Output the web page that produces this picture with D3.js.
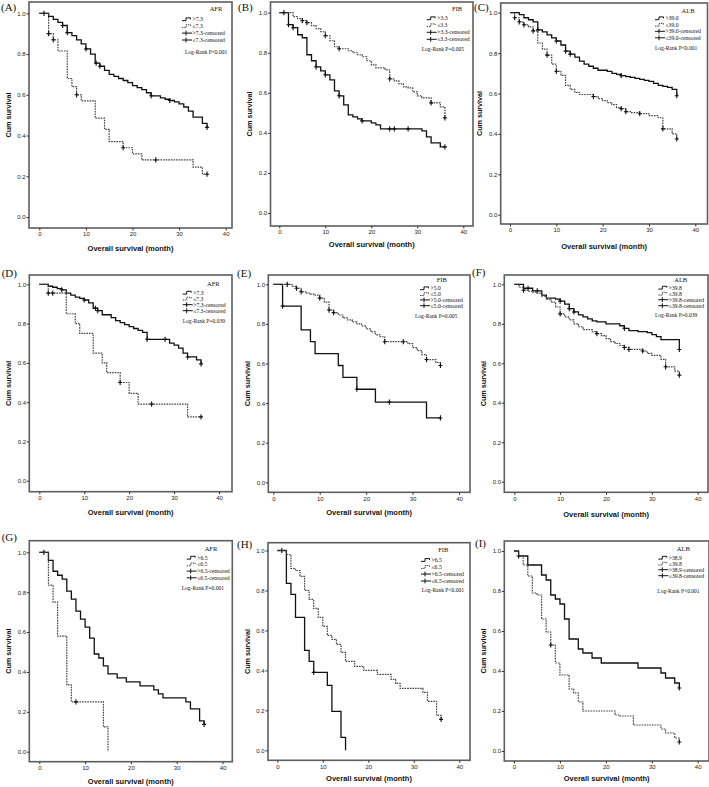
<!DOCTYPE html>
<html><head><meta charset="utf-8">
<script src="https://cdn.jsdelivr.net/npm/d3@7"></script>
<style>body{margin:0;background:#fff}svg{display:block}</style>
</head><body>
<svg id="c" width="709" height="787"></svg>
<script>
// ---------------- DATA ----------------
const panelLabels = ["(A)","(B)","(C)","(D)","(E)","(F)","(G)","(H)","(I)"];
const markerNames = ["AFR","FIB","ALB","AFR","FIB","ALB","AFR","FIB","ALB"];
const cutHigh = [">7.3",">3.3",">39.0",">7.3",">5.0",">39.8",">6.5",">6.5",">38.9"];
const cutLow  = ["≤7.3","≤3.3","≤39.0","≤7.3","≤5.0","≤39.8","≤6.5","≤6.5","≤39.8"];
const pTexts  = ["Log-Rank P<0.001","Log-Rank P=0.005","Log-Rank P<0.001","Log-Rank P=0.039","Log-Rank P=0.005","Log-Rank P=0.039","Log-Rank P=0.001","Log-Rank P<0.001","Log-Rank P<0.001"];
const xTicks = [0,10,20,30,40];
const yTicks = [0,0.2,0.4,0.6,0.8,1.0];
const xTitle = "Overall survival (month)";
const yTitle = "Cum survival";

// step data: [month, cumulative survival after the event]
const A_high = [[2,0.985],[3,0.97],[4,0.955],[5,0.94],[6,0.905],[7,0.89],[8,0.87],[9,0.85],[10,0.825],[11,0.80],[12,0.755],[13,0.74],[14,0.72],[15,0.70],[16,0.69],[17,0.68],[18,0.67],[19,0.66],[20,0.645],[21,0.635],[22,0.625],[23,0.61],[24,0.595],[26,0.585],[27,0.578],[28,0.572],[29,0.565],[30,0.555],[31,0.54],[32,0.52],[33,0.49],[35,0.46],[36,0.44]];
const A_low  = [[2,0.90],[3,0.87],[4,0.815],[6,0.68],[7,0.64],[8,0.60],[9,0.57],[12,0.485],[14,0.43],[15,0.37],[18,0.34],[20,0.31],[22,0.28],[33,0.245],[35,0.21]];
const A_highCens = [1,5,6,10,12.2,13,24,28,36];
const A_lowCens  = [2,3,8,18,25,36];

const B_high = [[2,0.94],[3,0.925],[4,0.89],[5,0.875],[6,0.79],[7,0.76],[8,0.73],[9,0.71],[10,0.69],[11,0.665],[12,0.61],[13,0.585],[14,0.54],[15,0.49],[16,0.48],[17,0.47],[18,0.46],[20,0.45],[21,0.44],[22,0.42],[31,0.41],[32,0.38],[33,0.35],[35,0.33]];
const B_low  = [[3,0.98],[4,0.97],[5,0.96],[6,0.95],[7,0.935],[8,0.92],[9,0.905],[10,0.885],[11,0.86],[12,0.83],[13,0.82],[15,0.81],[16,0.80],[17,0.79],[18,0.78],[19,0.76],[20,0.74],[21,0.725],[23,0.715],[24,0.67],[25,0.66],[26,0.645],[27,0.63],[28,0.625],[29,0.605],[30,0.585],[31,0.575],[33,0.55],[35,0.53],[36,0.475]];
const B_highCens = [2,3,8,10,13,18,24,25,28,36];
const B_lowCens  = [1,5,6,10,13,24,33,36];

const C_high = [[2,0.99],[3,0.975],[4,0.965],[5,0.955],[6,0.915],[7,0.905],[8,0.89],[9,0.875],[10,0.86],[11,0.84],[12,0.81],[13,0.795],[14,0.78],[15,0.76],[16,0.745],[17,0.735],[18,0.725],[19,0.715],[21,0.71],[22,0.70],[23,0.695],[24,0.688],[25,0.684],[26,0.68],[27,0.675],[28,0.67],[29,0.665],[30,0.66],[31,0.65],[32,0.64],[33,0.635],[34,0.63],[35,0.62],[36,0.589]];
const C_low  = [[1,0.975],[2,0.955],[3,0.94],[4,0.93],[5,0.91],[6,0.85],[7,0.82],[8,0.79],[9,0.745],[10,0.71],[11,0.69],[12,0.64],[13,0.62],[14,0.605],[15,0.595],[18,0.585],[19,0.575],[20,0.565],[21,0.555],[22,0.545],[23,0.53],[24,0.525],[25,0.51],[26,0.505],[28,0.50],[30,0.49],[32,0.48],[33,0.425],[35,0.40],[36,0.375]];
const C_highCens = [6,10,12,13,24,36];
const C_lowCens  = [1,2,3,5,8,10,18,24,25,28,33,36];

const D_high = [[2,0.99],[3,0.985],[4,0.978],[5,0.972],[6,0.955],[7,0.945],[8,0.935],[9,0.928],[10,0.92],[11,0.905],[12,0.878],[13,0.866],[14,0.845],[16,0.83],[17,0.815],[18,0.805],[19,0.795],[20,0.785],[21,0.775],[22,0.765],[23,0.755],[24,0.72],[29,0.70],[30,0.69],[31,0.675],[32,0.65],[33,0.63],[35,0.615],[36,0.595]];
const D_low  = [[2,0.955],[6,0.85],[8,0.80],[9,0.75],[12,0.65],[14,0.60],[15,0.55],[18,0.50],[20,0.445],[22,0.39],[33,0.325]];
const D_highCens = [5,10,12.5,13,24,28,33,36];
const D_lowCens  = [2,3,18,25,36];

const E_high = [[2,0.89],[6,0.77],[8,0.71],[9,0.65],[14,0.59],[15,0.53],[18,0.47],[22,0.405],[33,0.325]];
const E_low  = [[4,0.99],[5,0.98],[6,0.962],[7,0.955],[8,0.95],[9,0.945],[10,0.93],[11,0.91],[12,0.87],[13,0.857],[14,0.845],[15,0.83],[16,0.82],[17,0.81],[18,0.80],[19,0.79],[20,0.775],[21,0.76],[22,0.745],[23,0.735],[24,0.71],[29,0.70],[30,0.68],[31,0.665],[32,0.645],[33,0.62],[35,0.605],[36,0.59]];
const E_highCens = [2,18,25,36];
const E_lowCens  = [3,5,6,10,12,13,24,28,33,36];

const F_high = [[2,0.98],[4,0.967],[6,0.945],[7,0.93],[9,0.925],[10,0.915],[11,0.90],[12,0.877],[13,0.86],[14,0.845],[15,0.835],[16,0.825],[17,0.815],[18,0.81],[20,0.80],[23,0.79],[24,0.777],[25,0.765],[27,0.76],[29,0.755],[30,0.745],[31,0.735],[32,0.72],[36,0.67]];
const F_low  = [[1,0.985],[2,0.97],[3,0.965],[4,0.96],[5,0.955],[6,0.94],[7,0.925],[8,0.91],[9,0.885],[10,0.85],[11,0.835],[12,0.82],[13,0.80],[14,0.785],[15,0.77],[17,0.76],[18,0.75],[19,0.74],[20,0.725],[21,0.71],[22,0.70],[23,0.69],[24,0.68],[25,0.67],[28,0.662],[29,0.65],[30,0.64],[32,0.62],[33,0.582],[35,0.56],[36,0.54]];
const F_highCens = [3,5,10,12,13,24,36];
const F_lowCens  = [2,10,18,24,25,28,33,36];

const G_high = [[2,0.96],[3,0.905],[4,0.885],[5,0.865],[6,0.805],[7,0.765],[8,0.705],[9,0.665],[10,0.625],[11,0.57],[12,0.49],[13,0.47],[14,0.43],[15,0.39],[17,0.37],[19,0.35],[22,0.33],[25,0.31],[26,0.29],[27,0.27],[32,0.25],[33,0.215],[35,0.155],[36,0.137]];
const G_low  = [[2,0.835],[3,0.75],[4,0.58],[6,0.335],[7,0.25],[14,0.125],[15,0.0]];
const G_highCens = [1,36];
const G_lowCens  = [8];

const H_high = [[2,0.835],[3,0.78],[4,0.665],[6,0.50],[7,0.445],[8,0.39],[11,0.325],[12,0.195],[14,0.065],[15,0.0]];
const H_low  = [[2,0.98],[3,0.91],[4,0.90],[5,0.87],[6,0.80],[7,0.755],[8,0.71],[9,0.665],[10,0.62],[11,0.575],[12,0.555],[13,0.53],[14,0.49],[15,0.445],[17,0.42],[19,0.40],[22,0.38],[25,0.355],[26,0.335],[27,0.31],[32,0.29],[33,0.245],[35,0.175],[36,0.155]];
const H_highCens = [1,8];
const H_lowCens  = [36];

const I_high = [[1,0.975],[3,0.93],[6,0.88],[7,0.855],[8,0.78],[9,0.76],[10,0.735],[11,0.66],[12,0.56],[14,0.51],[15,0.49],[17,0.465],[19,0.44],[27,0.415],[32,0.39],[33,0.365],[35,0.34],[36,0.315]];
const I_low  = [[1,0.975],[2,0.93],[3,0.875],[4,0.79],[5,0.78],[6,0.66],[7,0.595],[8,0.53],[9,0.44],[10,0.38],[12,0.31],[13,0.29],[14,0.245],[15,0.20],[22,0.18],[23,0.175],[26,0.13],[32,0.11],[33,0.09],[35,0.065],[36,0.045]];
const I_highCens = [1,36];
const I_lowCens  = [8,36];

const highEnd = [36,36,36,36,36,36,36,15,36];
const lowEnd  = [36,36,36,36,36,36,15,36,36];

const highSteps = [A_high,B_high,C_high,D_high,E_high,F_high,G_high,H_high,I_high];
const lowSteps  = [A_low,B_low,C_low,D_low,E_low,F_low,G_low,H_low,I_low];
const highCens  = [A_highCens,B_highCens,C_highCens,D_highCens,E_highCens,F_highCens,G_highCens,H_highCens,I_highCens];
const lowCens   = [A_lowCens,B_lowCens,C_lowCens,D_lowCens,E_lowCens,F_lowCens,G_lowCens,H_lowCens,I_lowCens];

// ---------------- LAYOUT (pixels) ----------------
const layout = [
 {f:[29,2,232,228], x:[39.3,225.7], y:[217,13.3], lab:[1,10.5], xt:248, lg:{tx:216,ty:9,gx:182,iy:19.3,gap:6.9,ly:52,lx:185}},
 {f:[270.5,2,473,226], x:[279.3,463.3], y:[213,12.7], lab:[238,10.5], xt:244.5, lg:{tx:457,ty:9,gx:426.7,iy:18.3,gap:7,ly:48.7,lx:421.7}},
 {f:[500.7,3,707.5,224], x:[510,695.3], y:[214.7,12.7], lab:[474,10.5], xt:246.5, lg:{tx:688,ty:10.7,gx:655,iy:18.3,gap:6.5,ly:48.3,lx:655}},
 {f:[29.3,275,232,491.7], x:[39.3,219], y:[480.7,284.3], lab:[1.7,276.5], xt:512.7, lg:{tx:213.3,ty:283.3,gx:182.7,iy:292.7,gap:6,ly:321,lx:182.7}},
 {f:[268.3,275,470,492.3], x:[273.3,459], y:[482.3,284.3], lab:[237,276.5], xt:512.7, lg:{tx:441.7,ty:279.3,gx:420,iy:288.3,gap:5.8,ly:316,lx:415}},
 {f:[504.3,275,708,492.3], x:[514.3,697.7], y:[481.7,284.3], lab:[472,275.5], xt:514.3, lg:{tx:680.7,ty:280,gx:658.3,iy:287.7,gap:6,ly:315,lx:655}},
 {f:[29.3,540.7,232.3,761.7], x:[39.3,222.5], y:[751.7,552.3], lab:[1.7,541], xt:781, lg:{tx:211,ty:548.3,gx:186.7,iy:557.7,gap:6.7,ly:587.7,lx:181.7}},
 {f:[268,542.7,470,760.3], x:[277.3,459.3], y:[750.3,550.5], lab:[237,548], xt:778.3, lg:{tx:443.3,ty:550,gx:421,iy:560,gap:7,ly:590,lx:421.7}},
 {f:[504.3,541,709,761], x:[514,697.7], y:[751,551], lab:[475,547], xt:778.3, lg:{tx:683.3,ty:548.3,gx:658.3,iy:557.7,gap:6,ly:591,lx:657.3}}
];

const SOLID = "#111", DASH = "#444", FRAME = "#5e5e5e";
const svg = d3.select("#c");

function survAt(steps, t){
  let s = 1;
  for (const [tt, v] of steps) { if (tt <= t) s = v; }
  return s;
}

layout.forEach((L, i) => {
  const g = svg.append("g");
  const x = d3.scaleLinear().domain([0,40]).range(L.x);
  const y = d3.scaleLinear().domain([0,1]).range(L.y);
  const [fl, ft, fr, fb] = L.f;

  // frame
  g.append("rect").attr("x", fl).attr("y", ft).attr("width", fr-fl).attr("height", fb-ft)
    .attr("fill","none").attr("stroke",FRAME).attr("stroke-width",1.6);

  // axes
  const ya = g.append("g").attr("transform",`translate(${fl},0)`)
    .call(d3.axisLeft(y).tickValues(yTicks).tickFormat(d3.format(".1f")).tickSize(2.5).tickPadding(0.8));
  const xa = g.append("g").attr("transform",`translate(0,${fb})`)
    .call(d3.axisBottom(x).tickValues(xTicks).tickFormat(d3.format("d")).tickSize(2.5).tickPadding(1.5));
  [ya, xa].forEach(a => {
    a.select(".domain").remove();
    a.selectAll("line").attr("stroke","#333").attr("stroke-width",1);
    a.selectAll("text").attr("font-family","Liberation Sans, Arial, sans-serif").attr("font-size",6).attr("fill","#222");
  });

  // titles
  g.append("text").attr("x",(fl+fr)/2).attr("y",L.xt).attr("dy","0.35em")
    .attr("text-anchor","middle").attr("font-family","Liberation Sans, Arial, sans-serif")
    .attr("font-weight","bold").attr("font-size",7.5).attr("fill","#111").text(xTitle);
  g.append("text").attr("transform",`translate(${fl-21},${(ft+fb)/2}) rotate(-90)`).attr("dy","0.35em")
    .attr("text-anchor","middle").attr("font-family","Liberation Sans, Arial, sans-serif")
    .attr("font-weight","bold").attr("font-size",7.2).attr("fill","#111").text(yTitle);
  g.append("text").attr("x",L.lab[0]).attr("y",L.lab[1])
    .attr("font-family","Liberation Serif, Times New Roman, serif").attr("font-size",11).attr("fill","#111")
    .text(panelLabels[i]);

  // curves
  const line = d3.line().x(d => x(d[0])).y(d => y(d[1])).curve(d3.curveStepAfter);
  const groups = [
    {steps: highSteps[i], end: highEnd[i], cens: highCens[i], color: SOLID, dash: null, w: 1.3},
    {steps: lowSteps[i],  end: lowEnd[i],  cens: lowCens[i],  color: DASH,  dash: "1.6,1", w: 1.2}
  ];
  groups.forEach(G => {
    const pts = [[0,1], ...G.steps.filter(d => d[0] <= G.end), [G.end, survAt(G.steps, G.end)]];
    g.append("path").attr("d", line(pts)).attr("fill","none").attr("stroke",G.color)
      .attr("stroke-width",G.w).attr("stroke-dasharray",G.dash);
    G.cens.forEach(t => {
      const cx = x(t), cy = y(survAt(G.steps, t));
      g.append("path").attr("d",`M${cx-2},${cy}H${cx+2}M${cx},${cy-2.6}V${cy+2.6}`)
        .attr("stroke","#111").attr("stroke-width",1.1).attr("fill","none");
    });
  });

  // legend
  const lg = L.lg;
  const serif = "Liberation Serif, Times New Roman, serif";
  g.append("text").attr("x",lg.tx).attr("y",lg.ty).attr("dy","0.35em").attr("text-anchor","middle")
    .attr("font-family",serif).attr("font-size",6.5).attr("fill","#111").text(markerNames[i]);
  const items = [
    {t: cutHigh[i], kind:"solid"},
    {t: cutLow[i], kind:"dash"},
    {t: cutHigh[i] + "-censored", kind:"cens"},
    {t: cutLow[i] + "-censored", kind:"cens"}
  ];
  items.forEach((it, k) => {
    const yy = lg.iy + k*lg.gap, gx = lg.gx;
    if (it.kind === "cens") {
      g.append("path").attr("d",`M${gx},${yy}H${gx+10}M${gx+4},${yy-2.4}V${yy+2.4}`)
        .attr("stroke","#111").attr("stroke-width",1).attr("fill","none");
    } else {
      g.append("path").attr("d",`M${gx},${yy+1.4}H${gx+4}V${yy-1.4}H${gx+8.5}V${yy}`)
        .attr("stroke", it.kind==="solid"?SOLID:DASH).attr("stroke-width",1)
        .attr("stroke-dasharray", it.kind==="dash"?"1.4,0.8":null).attr("fill","none");
    }
    g.append("text").attr("x",gx+10.5).attr("y",yy).attr("dy","0.35em")
      .attr("font-family",serif).attr("font-size",5.7).attr("fill","#111").text(it.t);
  });
  g.append("text").attr("x",lg.lx).attr("y",lg.ly).attr("dy","0.35em")
    .attr("font-family",serif).attr("font-size",5.5).attr("fill","#111").text(pTexts[i]);
});
</script>
</body></html>
